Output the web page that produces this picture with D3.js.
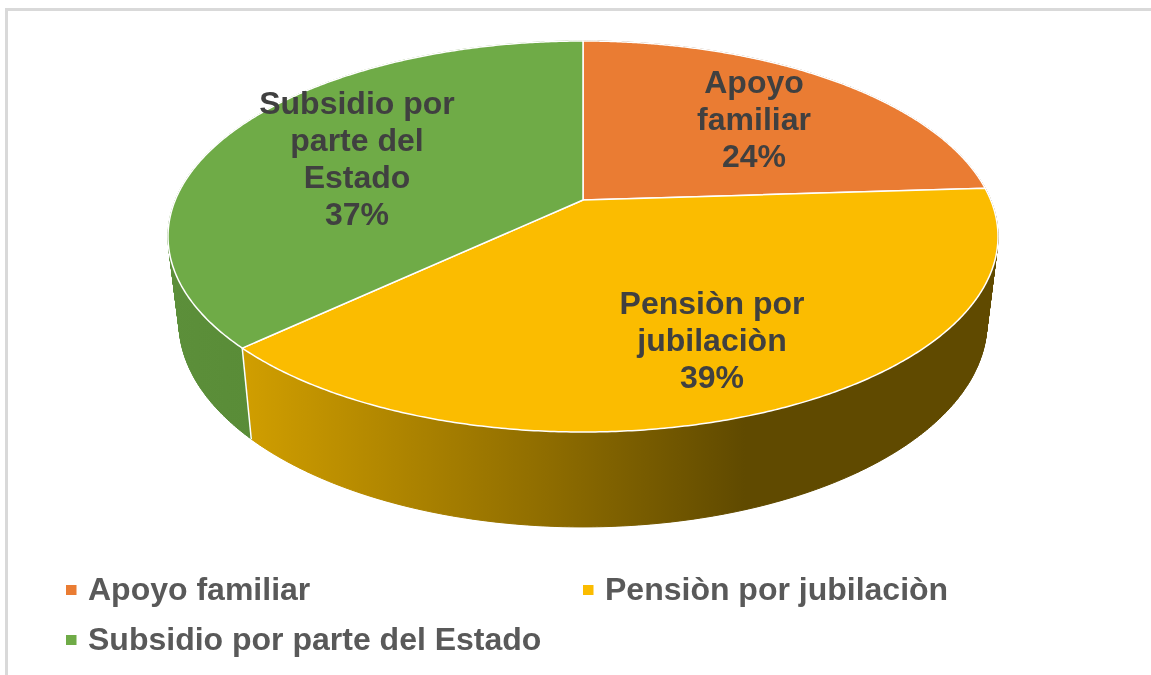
<!DOCTYPE html>
<html>
<head>
<meta charset="utf-8">
<script src="https://cdn.jsdelivr.net/npm/d3@7"></script>
<style>
  html, body { margin: 0; padding: 0; background: #fff; overflow: hidden; }
  text { font-family: "Liberation Sans", Arial, sans-serif; font-weight: bold; }
  svg { filter: blur(0.5px); }
</style>
</head>
<body>
<div id="chart"></div>
<script>
// data
var categories = ["Apoyo familiar", "Pensiòn por jubilaciòn", "Subsidio por parte del Estado"];
var percents = [24, 39, 37];
var labelLines = [["Apoyo", "familiar"], ["Pensiòn por", "jubilaciòn"], ["Subsidio por", "parte del", "Estado"]];
var topColors = ["#ea7c33", "#fbbc00", "#6fab47"];

var width = 1151, height = 675;

// 3d look: unit circle -> perspective ellipse
var apexX = 583, apexY = 200;
var rimA = 407.7, rimB = 188.7, tilt = 0.1867;
var floorY = 284, floorSx = 0.9735, floorSy = 1.047;

function rim(angle) {
  var u = Math.sin(angle), v = -Math.cos(angle), d = 1 - tilt * v;
  return [rimA * u / d, rimB * v / d];
}
function topPt(angle) {
  var p = rim(angle);
  return [apexX + p[0], apexY + p[1]];
}
function floorPt(angle) {
  var p = rim(angle);
  return [apexX + p[0] * floorSx, floorY + p[1] * floorSy];
}

var color = d3.scaleOrdinal().domain(categories).range(topColors);
var pie = d3.pie().sort(null);
var slices = pie(percents);
var line = d3.line();

var svg = d3.select("#chart").append("svg")
  .attr("width", width)
  .attr("height", height)
  .style("display", "block");

// frame
svg.append("path")
  .attr("d", "M6.5,675V9.5H1151")
  .attr("fill", "none")
  .attr("stroke", "#d9d9d9")
  .attr("stroke-width", 3);

// wall gradients
var defs = svg.append("defs");
function wallGradient(id, x1, x2, stops) {
  var g = defs.append("linearGradient").attr("id", id)
    .attr("gradientUnits", "userSpaceOnUse")
    .attr("x1", x1).attr("x2", x2).attr("y1", 0).attr("y2", 0);
  stops.forEach(function (s) {
    g.append("stop").attr("offset", s[0]).attr("stop-color", s[1]);
  });
  return "url(#" + id + ")";
}
var wallFills = [
  "#7a4416",
  wallGradient("wallYellow", 245, 745, [[0, "#d09e00"], [0.6, "#8f6d00"], [1, "#604a00"]]),
  wallGradient("wallGreen", 170, 255, [[0, "#5c8f3a"], [1, "#598c37"]])
];

function steps(s) {
  return d3.range(0, 301).map(function (i) {
    return s.startAngle + (s.endAngle - s.startAngle) * i / 300;
  });
}

// walls first, the top covers what is behind
// stroke too, the quads get very thin at the sides
svg.append("g").selectAll("path")
  .data(slices)
  .enter().append("path")
  .attr("fill", function (d, i) { return wallFills[i]; })
  .attr("stroke", function (d, i) { return wallFills[i]; })
  .attr("stroke-width", 1)
  .attr("d", function (d) {
    var a = steps(d), out = "";
    for (var i = 0; i < a.length - 1; i++) {
      out += line([topPt(a[i]), topPt(a[i + 1]), floorPt(a[i + 1]), floorPt(a[i])]) + "Z";
    }
    return out;
  });

// seam between walls
svg.append("g").selectAll("path")
  .data(slices)
  .enter().append("path")
  .attr("fill", "none")
  .attr("stroke", "#fff")
  .attr("stroke-width", 1.5)
  .attr("d", function (d) { return line([topPt(d.startAngle), floorPt(d.startAngle)]); });

// top
svg.append("g").selectAll("path")
  .data(slices)
  .enter().append("path")
  .attr("fill", function (d, i) { return color(categories[i]); })
  .attr("stroke", "#fff")
  .attr("stroke-width", 1.5)
  .attr("stroke-linejoin", "round")
  .attr("d", function (d) {
    return line([[apexX, apexY]].concat(steps(d).map(topPt))) + "Z";
  });

// data labels
var labelX = [754, 712, 357];
var labelY = [93, 314, 114];
var labelGap = 37;
var labels = svg.append("g").selectAll("text")
  .data(slices)
  .enter().append("text")
  .attr("text-anchor", "middle")
  .attr("fill", "#404040")
  .attr("font-size", 32);
labels.each(function (d, i) {
  var t = d3.select(this);
  labelLines[i].concat([percents[i] + "%"]).forEach(function (txt, k) {
    t.append("tspan")
      .attr("x", labelX[i])
      .attr("y", labelY[i] + k * labelGap)
      .text(txt);
  });
});

// legend
var legendX = [66, 583, 66];
var legendY = [600, 600, 650];
var legend = svg.append("g").selectAll("g")
  .data(categories)
  .enter().append("g")
  .attr("transform", function (d, i) { return "translate(" + legendX[i] + "," + legendY[i] + ")"; });
legend.append("rect")
  .attr("x", 0).attr("y", -15)
  .attr("width", 10.5).attr("height", 10)
  .attr("fill", function (d) { return color(d); });
legend.append("text")
  .attr("x", 22)
  .attr("fill", "#595959")
  .attr("font-size", 32)
  .text(function (d) { return d; });
</script>
</body>
</html>
